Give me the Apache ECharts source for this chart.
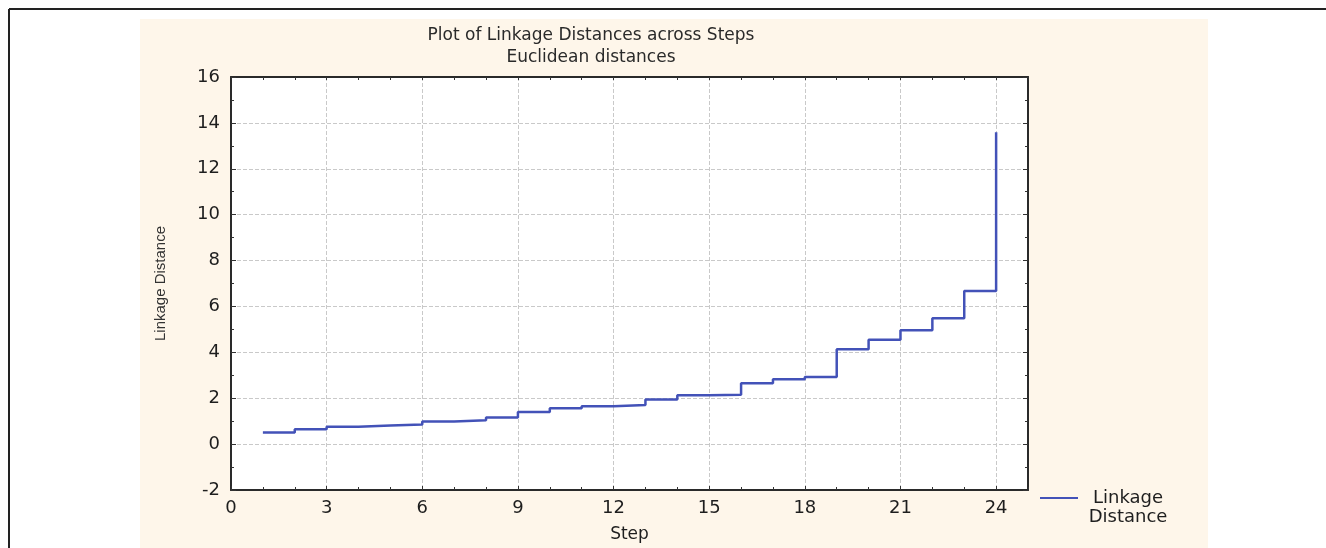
<!DOCTYPE html>
<html>
<head>
  <meta charset="utf-8">
  <title>Linkage Distances</title>
  <script src="https://cdn.jsdelivr.net/npm/echarts@6/dist/echarts.min.js"></script>
  <style>
    html, body { margin: 0; padding: 0; background: #fff; }
    #chart { width: 1326px; height: 548px; }
  </style>
</head>
<body>
  <div id="chart"></div>
  <script>
    // data
    var steps = [1, 2, 3, 4, 5, 6, 7, 8, 9, 10, 11, 12, 13, 14, 15, 16, 17, 18, 19, 20, 21, 22, 23, 24];
    var linkage = [0.51, 0.65, 0.76, 0.81, 0.86, 0.99, 1.04, 1.16, 1.40, 1.56, 1.65, 1.70,
                   1.94, 2.13, 2.15, 2.65, 2.83, 2.93, 4.13, 4.55, 4.96, 5.49, 6.67, 13.59];
    var titleLines = ['Plot of Linkage Distances across Steps', 'Euclidean distances'];
    var seriesName = 'Linkage Distance';

    var chart = echarts.init(document.getElementById('chart'));

    var lineData = [];
    for (var i = 0; i < steps.length; i++) {
      lineData.push([steps[i], linkage[i]]);
    }

    var txt = '#1e1e1e';
    var fontMain = 'DejaVu Sans';
    var gridStyle = { color: '#c9c9c9', width: 1, type: [4, 2] };
    var frame = { onZero: false, lineStyle: { color: '#2a2a2a', width: 2 } };
    var lineColor = '#4352b8';

    option = {
      animation: false,
      backgroundColor: '#fff',
      graphic: [
        { type: 'rect', z: -10, silent: true, shape: { x: 140, y: 19, width: 1068, height: 529 }, style: { fill: '#fef6ea' } },
        { type: 'line', silent: true, shape: { x1: 9, y1: 9, x2: 1326, y2: 9 }, style: { stroke: '#222', lineWidth: 2 } },
        { type: 'line', silent: true, shape: { x1: 9, y1: 9, x2: 9, y2: 548 }, style: { stroke: '#222', lineWidth: 2 } }
      ],
      title: {
        text: titleLines[0],
        subtext: titleLines[1],
        left: 591,
        top: 27,
        textAlign: 'center',
        padding: 0,
        itemGap: 5,
        textStyle: { fontFamily: fontMain, fontSize: 17, fontWeight: 'normal', color: '#2a2a2a' },
        subtextStyle: { fontFamily: fontMain, fontSize: 17, color: '#2a2a2a' }
      },
      legend: {
        left: 1040,
        top: 470,
        padding: 0,
        icon: 'rect',
        itemWidth: 38,
        itemHeight: 2,
        itemGap: 5,
        data: [seriesName],
        formatter: function () {
          return '{s| }\n{a|Linkage}\n{a|Distance}';
        },
        textStyle: {
          rich: {
            s: { fontSize: 18, lineHeight: 19, fontFamily: fontMain },
            a: { fontSize: 18, lineHeight: 19, width: 90, align: 'center', fontFamily: fontMain, color: txt }
          }
        }
      },
      grid: {
        left: 231, top: 77, width: 797, height: 415,
        show: true, backgroundColor: '#fff', borderWidth: 0
      },
      xAxis: [
        {
          type: 'value', min: 0, max: 25, interval: 3,
          name: 'Step', nameLocation: 'middle', nameGap: 36,
          nameTextStyle: { fontFamily: fontMain, fontSize: 17, color: txt },
          axisLine: frame,
          axisTick: { show: true, inside: true, length: 4, lineStyle: { color: '#333' } },
          axisLabel: { showMaxLabel: false, margin: 9, fontFamily: fontMain, fontSize: 18, color: txt },
          splitLine: { show: true, lineStyle: gridStyle }
        },
        {
          // minor ticks on each step
          type: 'value', min: 0, max: 25, interval: 1, position: 'bottom',
          axisLine: { show: false, onZero: false },
          axisTick: { show: true, inside: true, length: 3, lineStyle: { color: '#333' } },
          axisLabel: { show: false },
          splitLine: { show: false }
        },
        {
          type: 'value', min: 0, max: 25, interval: 1, position: 'top',
          axisLine: frame,
          axisTick: { show: true, inside: true, length: 3, lineStyle: { color: '#333' } },
          axisLabel: { show: false },
          splitLine: { show: false }
        }
      ],
      yAxis: [
        {
          type: 'value', min: -2, max: 16, interval: 2,
          name: seriesName, nameLocation: 'middle', nameGap: 63,
          nameTextStyle: { fontFamily: 'Liberation Sans', fontSize: 15, color: '#333' },
          axisLine: frame,
          axisTick: { show: true, inside: true, length: 5, lineStyle: { color: '#333' } },
          minorTick: { show: true, splitNumber: 2, length: 3, lineStyle: { color: '#333' } },
          axisLabel: { margin: 11, fontFamily: fontMain, fontSize: 18, color: txt },
          splitLine: { show: true, lineStyle: gridStyle }
        },
        {
          type: 'value', min: -2, max: 16, interval: 2, position: 'right',
          axisLine: frame,
          axisTick: { show: true, inside: true, length: 5, lineStyle: { color: '#333' } },
          minorTick: { show: true, splitNumber: 2, length: 3, lineStyle: { color: '#333' } },
          axisLabel: { show: false },
          splitLine: { show: false }
        }
      ],
      series: [
        {
          name: seriesName,
          type: 'line',
          step: 'end',
          xAxisIndex: 0,
          yAxisIndex: 0,
          showSymbol: false,
          symbol: 'none',
          color: lineColor,
          lineStyle: { width: 2.5, color: lineColor },
          data: lineData
        }
      ]
    };

    chart.setOption(option);
  </script>
</body>
</html>
